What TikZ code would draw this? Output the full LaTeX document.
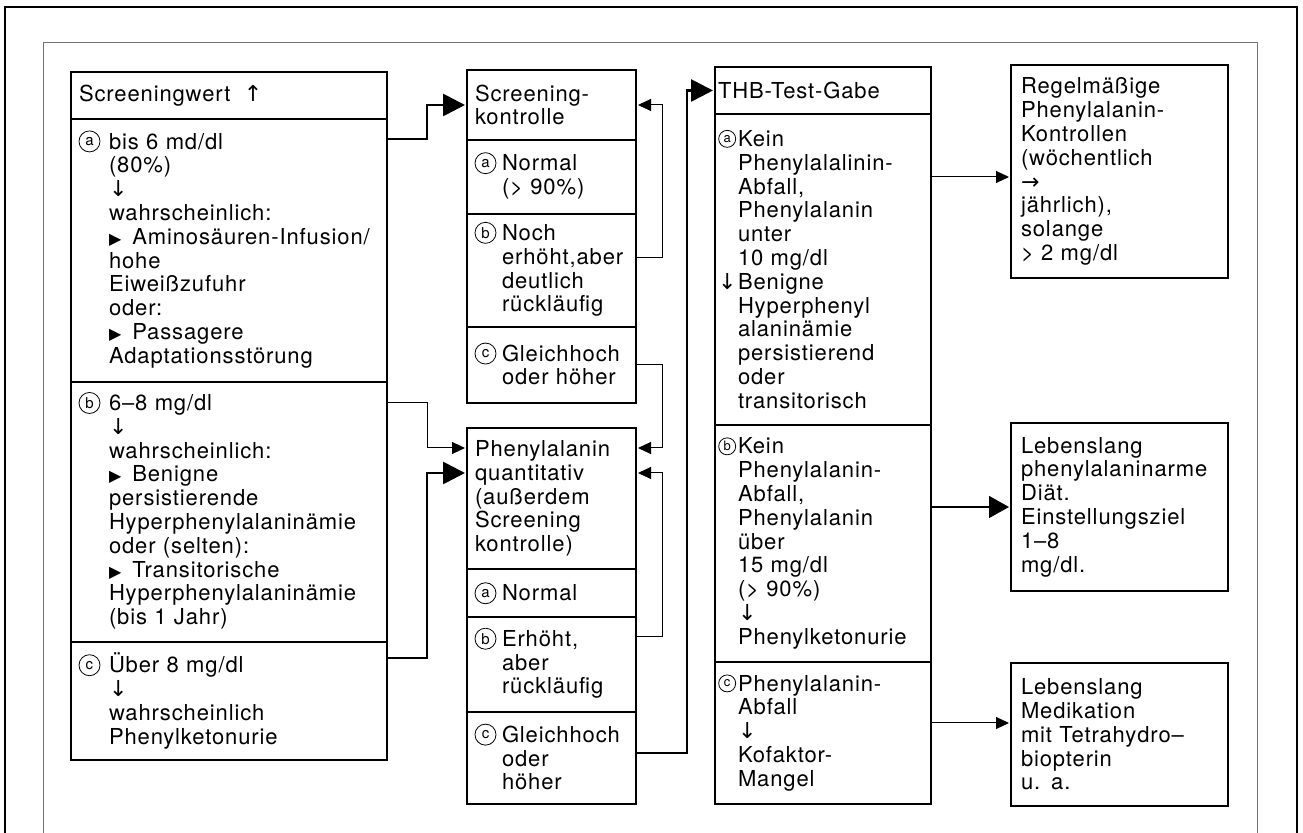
\documentclass[tikz,border=0pt]{standalone}
\usepackage{fontspec}
\setmainfont{TeX Gyre Heros}[LetterSpace=4]
\newfontfamily\symf{DejaVu Sans}
\usepackage{pict2e}
\usepackage{tikz}
\usetikzlibrary{positioning,arrows.meta,calc}
\newcommand{\bodyfont}{\fontsize{11}{11.9}\selectfont}
\newlength{\hangw}
\newcommand{\circd}{10.5}
\newcommand{\circr}{5.25}
\newcommand{\circf}{7.5}
\newcommand{\circled}[1]{\setlength{\unitlength}{1pt}%
  \begin{picture}(\circd,6)\put(\circr,3.8){\circle{\circd}}%
  \put(\circr,3.8){\makebox(0,0){\fontsize{\circf}{\circf}\selectfont #1}}\end{picture}}
\newcommand{\opt}[1]{\leftskip=\hangw\relax\noindent\hspace*{-\hangw}\makebox[\hangw][l]{\circled{#1}}}
\newcommand{\lead}[1]{\hspace*{-\hangw}\makebox[\hangw][l]{#1}}
\newcommand{\tri}{{\symf\footnotesize ▶}\hspace{0.5em}}
\newcommand{\dn}{{\symf ↓}}
\tikzset{
    sec/.style={rectangle,draw,line width=0.6pt,outer sep=0pt,anchor=north west,
                inner xsep=4pt,inner ysep=2pt,align=left,font=\bodyfont},
    hangw/.code={\setlength{\hangw}{#1}},
    smallcirc/.code={\def\circd{8.5}\def\circr{4.6}\def\circf{6.5}},
    colL/.style={sec,text width=150pt,hangw=15pt},
    colM/.style={sec,text width=76.5pt,hangw=13.5pt},
    colT/.style={sec,inner xsep=1.5pt,text width=105pt,hangw=10pt,smallcirc},
    res/.style={sec,inner xsep=5pt,text width=98.5pt},
    conn/.style={-{Triangle[length=6.5pt,width=6pt]},line width=0.5pt,shorten >=1pt},
    midconn/.style={-{Triangle[length=10pt,width=11pt]},line width=0.8pt,shorten >=1pt},
    bigconn/.style={-{Triangle[length=11pt,width=11pt]},line width=1.4pt,shorten >=1pt},
}
\begin{document}
\begin{tikzpicture}[x=0.5pt,y=-0.5pt]
\useasboundingbox (0,0) rectangle (1303,833);
% frames
\draw[line width=0.9pt] (5,833) -- (5,7) -- (1297,7) -- (1297,833);
\draw[line width=0.5pt,black!55] (43,833) -- (43,43) -- (1257,43) -- (1257,833);

% Screeningwert
\node[colL,minimum height=23.5pt] (sw) at (71,72) {Screeningwert \;{\symf ↑}};
\node[colL,minimum height=131.5pt,below=0pt of sw] (swa) {\opt{a}bis 6 md/dl\\
(80\%)\\ \dn\\ wahrscheinlich:\\ \tri Aminosäuren-Infusion/\\ hohe\\ Eiweißzufuhr\\
oder:\\ \tri Passagere\\ Adaptationsstörung\par};
\node[colL,minimum height=130pt,below=0pt of swa] (swb) {\opt{b}6–8 mg/dl\\
\dn\\ wahrscheinlich:\\ \tri Benigne\\ persistierende\\ Hyperphenylalaninämie\\
oder (selten):\\ \tri Transitorische\\ Hyperphenylalaninämie\\ (bis 1 Jahr)\par};
\node[colL,minimum height=59pt,below=0pt of swb] (swc) {\opt{c}Über 8 mg/dl\\
\dn\\ wahrscheinlich\\ Phenylketonurie\par};

% Screeningkontrolle
\node[colM,minimum height=35pt] (sk) at (467,70) {Screening-\\kontrolle};
\node[colM,minimum height=37pt,below=0pt of sk] (ska) {\opt{a}Normal\\ (> 90\%)\par};
\node[colM,minimum height=56.5pt,below=0pt of ska] (skb) {\opt{b}Noch\\ erhöht,aber\\
deutlich\\ rückläufig\par};
\node[colM,minimum height=38pt,below=0pt of skb] (skc) {\opt{c}Gleichhoch\\ oder höher\par};

% Phenylalanin quantitativ
\node[colM,minimum height=70.5pt] (pq) at (467,428) {Phenylalanin\\ quantitativ\\
(außerdem\\ Screening\\ kontrolle)};
\node[colM,minimum height=24pt,below=0pt of pq] (pqa) {\opt{a}Normal\par};
\node[colM,minimum height=47.5pt,below=0pt of pqa] (pqb) {\opt{b}Erhöht,\\ aber\\ rückläufig\par};
\node[colM,minimum height=46pt,below=0pt of pqb] (pqc) {\opt{c}Gleichhoch\\ oder\\ höher\par};

% THB-Test
\node[colT,minimum height=23.5pt] (thb) at (715,67) {THB-Test-Gabe};
\node[colT,minimum height=155.5pt,below=0pt of thb] (thba) {\opt{a}Kein\\
Phenylalalinin-\\ Abfall,\\ Phenylalanin\\ unter\\ 10 mg/dl\\ \lead{\dn}Benigne\\
Hyperphenyl\\ alaninämie\\ persistierend\\ oder\\ transitorisch\par};
\node[colT,minimum height=118.5pt,below=0pt of thba] (thbb) {\opt{b}Kein\\
Phenylalanin-\\ Abfall,\\ Phenylalanin\\ über\\ 15 mg/dl\\ (> 90\%)\\ \dn\\
Phenylketonurie\par};
\node[colT,minimum height=71pt,below=0pt of thbb] (thbc) {\opt{c}Phenylalanin-\\
Abfall\\ \dn\\ Kofaktor-\\ Mangel\par};

% results
\node[res,minimum height=106.5pt] (kontr) at (1011,65) {Regelmäßige\\ Phenylalanin-\\
Kontrollen\\ (wöchentlich\\ {\symf →}\\ jährlich),\\ solange\\ > 2 mg/dl};
\node[res,minimum height=84pt] (diaet) at (1011,423) {Lebenslang\\ phenylalaninarme\\
Diät.\\ Einstellungsziel\\ 1–8\\ mg/dl.};
\node[res,minimum height=71.5pt] (medik) at (1011,663) {Lebenslang\\ Medikation\\
mit Tetrahydro–\\ biopterin\\ u. a.};

% connectors
\draw[bigconn] ($(swa.north east)+(0,20)$) -- ++(40,0) |- (sk.west);
\draw[conn] ($(swb.north east)+(0,21)$) -- ++(40,0) |- ($(pq.north west)+(0,20)$);
\draw[bigconn] ($(swc.north east)+(0,16)$) -- ++(40,0) |- ($(pq.north west)+(0,45)$);

\draw[conn] ($(skb.north east)+(0,44)$) -- ++(26,0) |- (sk.east);
\draw[conn] ($(skc.north east)+(0,38)$) -- ++(26,0) |- ($(pq.north east)+(0,20)$);
\draw[conn] ($(pqb.north east)+(0,20)$) -- ++(26,0) |- ($(pq.north east)+(0,45)$);
\draw[bigconn] ($(pqc.north east)+(0,41)$) -- ++(51,0) |- (thb.west);

\draw[conn] ($(thba.north east)+(0,63)$) -- ($(kontr.north west)+(0,112)$);
\draw[midconn] (thbb.east |- diaet.west) -- (diaet.west);
\draw[conn] ($(thbc.north east)+(0,61)$) -- ($(medik.north west)+(0,60)$);
\end{tikzpicture}
\end{document}
